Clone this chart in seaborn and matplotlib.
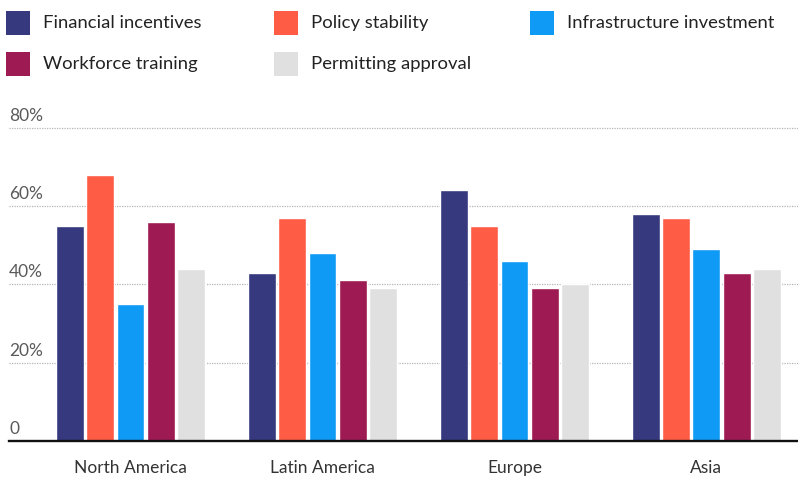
import matplotlib
matplotlib.use("Agg")
import matplotlib.pyplot as plt
from matplotlib.patches import Rectangle
import seaborn as sns
import pandas as pd

regions = ["North America", "Latin America", "Europe", "Asia"]
series = ["Financial incentives", "Policy stability", "Infrastructure investment",
          "Workforce training", "Permitting approval"]
financial_incentives = [55, 43, 64, 58]
policy_stability = [68, 57, 55, 57]
infrastructure_investment = [35, 48, 46, 49]
workforce_training = [56, 41, 39, 43]
permitting_approval = [44, 39, 40, 44]
y_ticks = [0, 20, 40, 60, 80]
y_tick_labels = ["0", "20%", "40%", "60%", "80%"]

colors = ["#36397E", "#FF5C45", "#0F9AF5", "#9E1A53", "#E0E0E0"]

values = [financial_incentives, policy_stability, infrastructure_investment,
          workforce_training, permitting_approval]
df = pd.DataFrame([
    {"region": r, "factor": s, "share": v}
    for s, vals in zip(series, values)
    for r, v in zip(regions, vals)
])

sns.set_theme(style="white")
plt.rcParams["font.family"] = ["Lato", "DejaVu Sans"]

W, H = 798, 479
fig = plt.figure(figsize=(W / 100, H / 100), dpi=100)

# axes placement in pixel terms
zero_y = 440.7
px_per_unit = 3.91
ymax = 84
ax_left, ax_right = 9, 798
ax = fig.add_axes([ax_left / W, (H - zero_y) / H, (ax_right - ax_left) / W,
                   ymax * px_per_unit / H])

sns.barplot(data=df, x="region", y="share", hue="factor", order=regions,
            hue_order=series, palette=colors, width=0.79, gap=0.08,
            saturation=1, legend=False, ax=ax, zorder=2)

ax.set_xlim(-0.633, 3.477)
ax.set_ylim(0, ymax)
ax.set_yticks(y_ticks)
ax.set_yticklabels([])
ax.tick_params(axis="y", length=0)
ax.grid(axis="y", linestyle=(0, (1, 1)), color="#B5B5B5", linewidth=0.9, zorder=0)
ax.grid(axis="x", visible=False)
for side in ["top", "right", "left"]:
    ax.spines[side].set_visible(False)
ax.spines["bottom"].set_color("#111111")
ax.spines["bottom"].set_linewidth(1.7)
ax.spines["bottom"].set_zorder(5)
ax.set_xlabel("")
ax.set_ylabel("")
ax.tick_params(axis="x", length=0, pad=14, labelsize=12.5, labelcolor="#333333")

for t, lab in zip(y_ticks, y_tick_labels):
    ax.text(0.0, t + 1.0, lab, transform=ax.get_yaxis_transform(),
            ha="left", va="bottom", fontsize=12.5, color="#5A5A5A")

# legend drawn as colored squares with labels in three columns
legend_pos = [(6, 23), (274, 23), (530, 23), (6, 64), (274, 64)]
for (x, yc), name, c in zip(legend_pos, series, colors):
    fig.add_artist(Rectangle(((x) / W, (H - yc - 12) / H), 24 / W, 24 / H,
                             transform=fig.transFigure, color=c, lw=0))
    fig.text((x + 37) / W, (H - yc) / H, name, ha="left", va="center",
             fontsize=13.3, color="#222222")

fig.savefig("out.png", dpi=100)
